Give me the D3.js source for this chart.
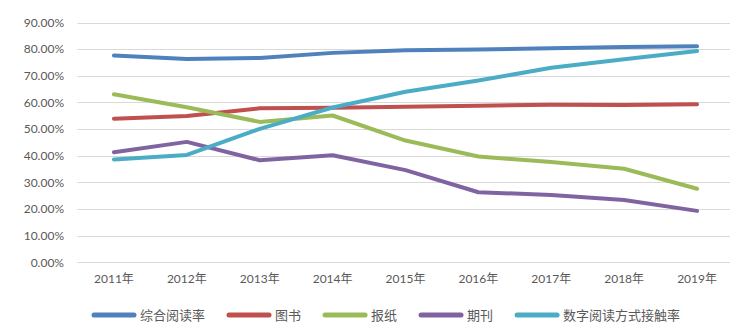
<!DOCTYPE html>
<html>
<head>
<meta charset="utf-8">
<script src="https://cdn.jsdelivr.net/npm/d3@7"></script>
<style>
  body { margin: 0; background: #fff; }
  text { font-family: Lato, "Noto Sans CJK SC", sans-serif; fill: #595959; }
</style>
</head>
<body>
<svg id="chart" width="730" height="335"></svg>
<script>
const years = ["2011年", "2012年", "2013年", "2014年", "2015年", "2016年", "2017年", "2018年", "2019年"];
const yTicks = [0, 10, 20, 30, 40, 50, 60, 70, 80, 90];

const overall = [77.6, 76.3, 76.7, 78.6, 79.6, 79.9, 80.3, 80.8, 81.1];
const books = [53.9, 54.9, 57.8, 58.0, 58.4, 58.8, 59.1, 59.0, 59.3];
const newspapers = [63.1, 58.2, 52.7, 55.1, 45.7, 39.7, 37.6, 35.1, 27.6];
const periodicals = [41.3, 45.2, 38.3, 40.2, 34.6, 26.3, 25.3, 23.4, 19.3];
const digital = [38.6, 40.3, 50.1, 58.1, 64.0, 68.2, 73.0, 76.2, 79.3];

const seriesNames = ["综合阅读率", "图书", "报纸", "期刊", "数字阅读方式接触率"];
const seriesValues = [overall, books, newspapers, periodicals, digital];
const colors = ["#4f81bd", "#c0504d", "#9bbb59", "#8064a2", "#4bacc6"];

const svg = d3.select("#chart");
const plotLeft = 77.5, plotRight = 733.5, plotTop = 22.5, plotBottom = 262.3;

const x = d3.scalePoint().domain(years).range([plotLeft, plotRight]).padding(0.5);
const y = d3.scaleLinear().domain([0, 90]).range([plotBottom, plotTop]);

// gridlines
svg.append("g")
  .selectAll("line")
  .data(yTicks)
  .join("line")
  .attr("x1", plotLeft)
  .attr("x2", 730)
  .attr("y1", d => Math.round(y(d)) + 0.5)
  .attr("y2", d => Math.round(y(d)) + 0.5)
  .attr("stroke", "#d9d9d9")
  .attr("stroke-width", 1);

// y labels
svg.append("g")
  .selectAll("text")
  .data(yTicks)
  .join("text")
  .attr("x", 64)
  .attr("y", d => y(d))
  .attr("dy", "0.35em")
  .attr("text-anchor", "end")
  .attr("font-size", 12)
  .text(d => d.toFixed(2) + "%");

// x labels
svg.append("g")
  .selectAll("text")
  .data(years)
  .join("text")
  .attr("x", d => x(d))
  .attr("y", 279)
  .attr("dy", "0.35em")
  .attr("text-anchor", "middle")
  .attr("font-size", 12)
  .text(d => d);

// lines
const line = d3.line()
  .x((d, i) => x(years[i]))
  .y(d => y(d));

svg.append("g")
  .selectAll("path")
  .data(seriesValues)
  .join("path")
  .attr("d", d => line(d))
  .attr("fill", "none")
  .attr("stroke", (d, i) => colors[i])
  .attr("stroke-width", 4)
  .attr("stroke-linecap", "round")
  .attr("stroke-linejoin", "round");

// legend
const legend = svg.append("g");
let lx = 92;
const ly = 315;
seriesNames.forEach((name, i) => {
  legend.append("line")
    .attr("x1", lx + 2)
    .attr("x2", lx + 42)
    .attr("y1", ly)
    .attr("y2", ly)
    .attr("stroke", colors[i])
    .attr("stroke-width", 5)
    .attr("stroke-linecap", "round");
  const t = legend.append("text")
    .attr("x", lx + 48)
    .attr("y", ly)
    .attr("dy", "0.35em")
    .attr("font-size", 13)
    .text(name);
  lx += 48 + t.node().getComputedTextLength() + 22;
});
</script>
</body>
</html>
